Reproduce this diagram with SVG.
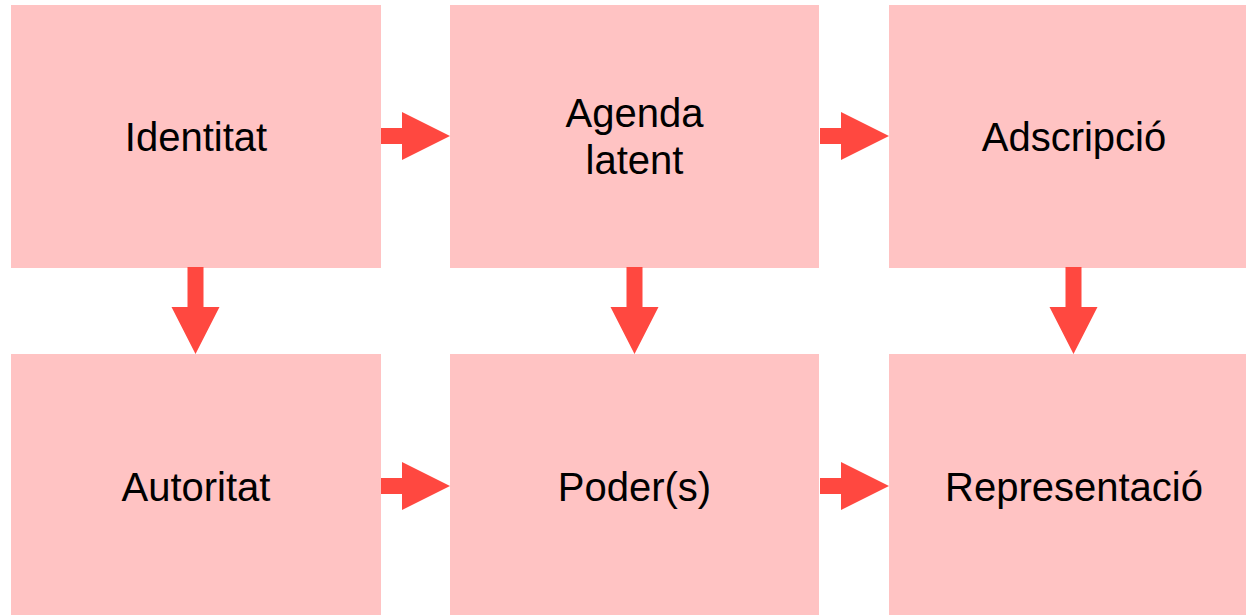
<svg xmlns="http://www.w3.org/2000/svg" width="1246" height="615" viewBox="0 0 1246 615">
<style>
.box{fill:#FFC3C3}
.lbl{font-family:"Liberation Sans",Arial,sans-serif;font-size:40px;fill:#000;text-anchor:middle}
.arr{fill:#FF4840}
</style>
<defs>
<path id="ar" d="M0,-8 L21,-8 L21,-24 L69,0 L21,24 L21,8 L0,8 Z"/>
<path id="ad" d="M-8,0 L-8,40 L-24,40 L0,87 L24,40 L8,40 L8,0 Z"/>
</defs>
<rect width="1246" height="615" fill="#fff"/>
<g id="n1"><rect class="box" x="11" y="5" width="370" height="263"/><text class="lbl" x="196" y="151">Identitat</text></g>
<g id="n2"><rect class="box" x="450" y="5" width="369" height="263"/><text class="lbl" x="634.5" y="127">Agenda</text><text class="lbl" x="634.5" y="173.5">latent</text></g>
<g id="n3"><rect class="box" x="889" y="5" width="370" height="263"/><text class="lbl" x="1074" y="151">Adscripció</text></g>
<g id="n4"><rect class="box" x="11" y="354" width="370" height="264"/><text class="lbl" x="196" y="501">Autoritat</text></g>
<g id="n5"><rect class="box" x="450" y="354" width="369" height="264"/><text class="lbl" x="634.5" y="501">Poder(s)</text></g>
<g id="n6"><rect class="box" x="889" y="354" width="370" height="264"/><text class="lbl" x="1074" y="501">Representació</text></g>
<g id="connectors" class="arr">
<use href="#ar" x="381" y="136"/>
<use href="#ar" x="820" y="136"/>
<use href="#ar" x="381" y="486"/>
<use href="#ar" x="820" y="486"/>
<use href="#ad" x="195.5" y="267"/>
<use href="#ad" x="634.5" y="267"/>
<use href="#ad" x="1073.5" y="267"/>
</g>
</svg>
